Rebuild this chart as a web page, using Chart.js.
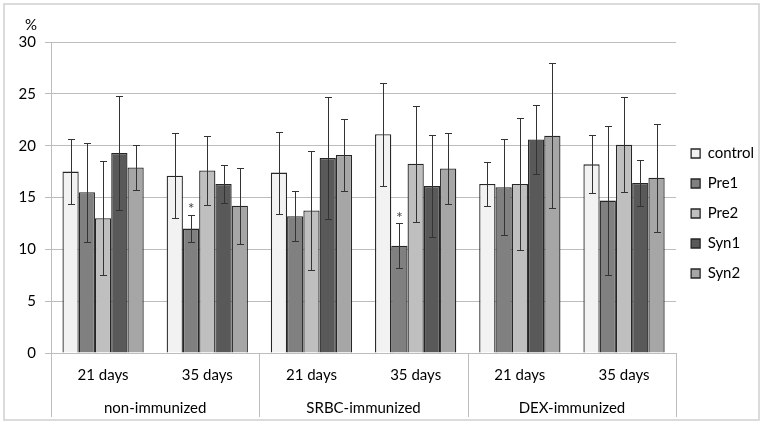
<!DOCTYPE html>
<html>
<head>
<meta charset="utf-8">
<script src="https://cdn.jsdelivr.net/npm/chart.js@4"></script>
<style>
  html, body { margin: 0; padding: 0; background: #fff; }
  #wrap { width: 764px; height: 426px; }
</style>
</head>
<body>
<div id="wrap"><canvas id="chart" width="764" height="426"></canvas></div>
<script>
// data
const categories = ['21 days', '35 days', '21 days', '35 days', '21 days', '35 days'];
const groups = ['non-immunized', 'SRBC-immunized', 'DEX-immunized'];
const seriesNames = ['control', 'Pre1', 'Pre2', 'Syn1', 'Syn2'];

const control    = [17.5, 17.1, 17.4, 21.1, 16.3, 18.2];
const controlErr = [3.1, 4.1, 3.95, 4.95, 2.15, 2.8];
const pre1       = [15.5, 12.0, 13.2, 10.35, 16.0, 14.7];
const pre1Err    = [4.75, 1.3, 2.4, 2.15, 4.6, 7.15];
const pre2       = [13.0, 17.6, 13.75, 18.25, 16.3, 20.1];
const pre2Err    = [5.5, 3.3, 5.7, 5.6, 6.35, 4.55];
const syn1       = [19.3, 16.3, 18.8, 16.1, 20.6, 16.4];
const syn1Err    = [5.5, 1.8, 5.9, 4.9, 3.3, 2.2];
const syn2       = [17.9, 14.2, 19.1, 17.8, 20.95, 16.9];
const syn2Err    = [2.2, 3.65, 3.5, 3.4, 7.0, 5.2];

// significance marks: [series index, category index]
const stars = [[1, 1], [1, 3]];

const yTicks = [0, 5, 10, 15, 20, 25, 30];

const values = [control, pre1, pre2, syn1, syn2];
const errors = [controlErr, pre1Err, pre2Err, syn1Err, syn2Err];
const fills = ['#f2f2f2', '#808080', '#bfbfbf', '#595959', '#a6a6a6'];

const FONT = 'Lato, "Open Sans", sans-serif';
const GRID = '#bdbdbd';

// error bars + asterisks
const errorBars = {
    id: 'errorBars',
    afterDatasetsDraw(chart) {
        const ctx = chart.ctx;
        const y = chart.scales.y;
        ctx.save();
        ctx.strokeStyle = '#333';
        ctx.lineWidth = 1;
        chart.data.datasets.forEach((ds, di) => {
            chart.getDatasetMeta(di).data.forEach((bar, i) => {
                const v = ds.data[i], e = errors[di][i];
                const top = Math.round(y.getPixelForValue(v + e)) + 0.5;
                const bot = Math.round(y.getPixelForValue(v - e)) + 0.5;
                const x = Math.round(bar.x) + 0.5;
                ctx.beginPath();
                ctx.moveTo(x, top); ctx.lineTo(x, bot);
                ctx.moveTo(x - 3.5, top); ctx.lineTo(x + 3.5, top);
                ctx.moveTo(x - 3.5, bot); ctx.lineTo(x + 3.5, bot);
                ctx.stroke();
            });
        });
        ctx.fillStyle = '#444';
        ctx.font = '16px ' + FONT;
        ctx.textAlign = 'center';
        ctx.textBaseline = 'middle';
        stars.forEach(([di, i]) => {
            const bar = chart.getDatasetMeta(di).data[i];
            const top = y.getPixelForValue(values[di][i] + errors[di][i]);
            ctx.fillText('*', bar.x, top - 6);
        });
        ctx.restore();
    }
};

// outer frame, group labels, dividers, "%" unit
const frame = {
    id: 'frame',
    beforeDraw(chart) {
        const ctx = chart.ctx;
        ctx.save();
        ctx.fillStyle = '#fff';
        ctx.fillRect(0, 0, chart.width, chart.height);
        ctx.strokeStyle = '#d0d0d0';
        ctx.lineWidth = 1.5;
        ctx.strokeRect(4, 4, chart.width - 9, chart.height - 10);
        ctx.restore();
    },
    afterDraw(chart) {
        const ctx = chart.ctx;
        const x = chart.scales.x;
        const area = chart.chartArea;
        const n = categories.length;
        const edge = k => k === 0 ? x.left : k === n ? x.right
            : (x.getPixelForValue(k - 1) + x.getPixelForValue(k)) / 2;
        const bottom = chart.height - 9;
        ctx.save();
        ctx.strokeStyle = GRID;
        ctx.lineWidth = 1;
        for (let k = 0; k <= n; k += 2) {
            const px = Math.round(edge(k)) + 0.5;
            ctx.beginPath();
            ctx.moveTo(px, area.bottom);
            ctx.lineTo(px, bottom);
            ctx.stroke();
        }
        ctx.fillStyle = '#000';
        ctx.font = '15px ' + FONT;
        ctx.textAlign = 'center';
        ctx.textBaseline = 'middle';
        groups.forEach((g, gi) => {
            const cx = (edge(gi * 2) + edge(gi * 2 + 2)) / 2;
            ctx.fillText(g, cx, area.bottom + 55);
        });
        ctx.fillText('%', 31, area.top - 17);
        ctx.restore();
    }
};

new Chart(document.getElementById('chart'), {
    type: 'bar',
    data: {
        labels: categories,
        datasets: seriesNames.map((name, i) => ({
            label: name,
            data: values[i],
            backgroundColor: fills[i],
            borderColor: '#262626',
            borderWidth: 1.3,
            categoryPercentage: 0.78,
            barPercentage: 1.0
        }))
    },
    options: {
        responsive: false,
        animation: false,
        layout: { padding: { top: 42, right: 0, bottom: 41, left: 0 } },
        plugins: {
            legend: {
                position: 'right',
                labels: {
                    boxWidth: 9,
                    boxHeight: 9,
                    padding: 15,
                    color: '#000',
                    font: { family: FONT, size: 15 }
                }
            },
            tooltip: { enabled: false }
        },
        scales: {
            x: {
                grid: { display: false, drawTicks: false },
                border: { display: false },
                ticks: {
                    color: '#000',
                    padding: 13,
                    font: { family: FONT, size: 15 }
                },
                afterFit: s => { s.height = 32; }
            },
            y: {
                min: 0,
                max: 30,
                afterBuildTicks: s => { s.ticks = yTicks.map(v => ({ value: v })); },
                grid: { color: GRID, tickLength: 6 },
                border: { color: GRID },
                ticks: {
                    color: '#000',
                    padding: 9,
                    font: { family: FONT, size: 15 }
                },
                afterFit: s => { s.width = 51; }
            }
        }
    },
    plugins: [errorBars, frame]
});
</script>
</body>
</html>
